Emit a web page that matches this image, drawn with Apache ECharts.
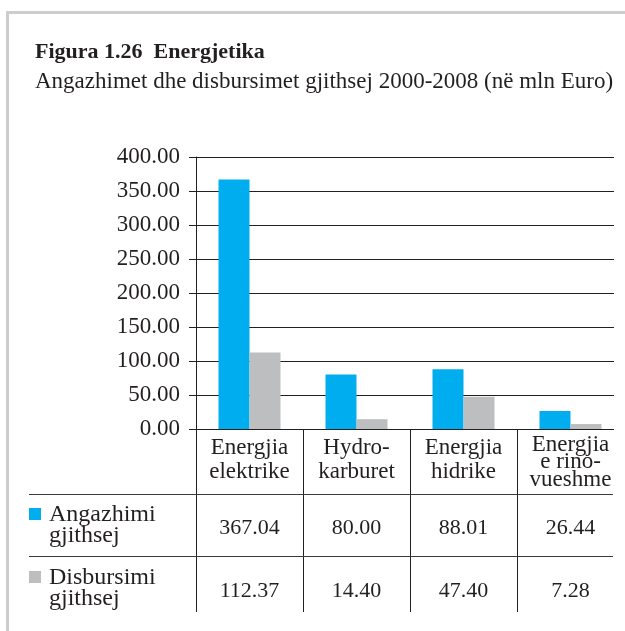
<!DOCTYPE html>
<html>
<head>
<meta charset="utf-8">
<script src="https://cdn.jsdelivr.net/npm/echarts@6/dist/echarts.min.js"></script>
<style>
html,body{margin:0;padding:0;background:#fff;}
#chart{width:625px;height:631px;}
</style>
</head>
<body>
<div id="chart"></div>
<script>
// kategorite (rreshtat e ndare me \n si ne figure)
var categories = ['Energjia\nelektrike', 'Hydro-\nkarburet', 'Energjia\nhidrike', 'Energjia\ne rino-\nvueshme'];
// vlerat ne mln Euro
var angazhimi = [367.04, 80.00, 88.01, 26.44];
var disbursimi = [112.37, 14.40, 47.40, 7.28];
var seriesNames = ['Angazhimi\ngjithsej', 'Disbursimi\ngjithsej'];
var seriesColors = ['#00aeef', '#bcbec0'];
var yMin = 0, yMax = 400, yStep = 50;

var font = 'Liberation Serif';
var ink = '#231f20';

function fmt(v){ return v.toFixed(2); }

// emertimet e rreshtave te tabeles
var rowGraphics = [];
for (var i = 0; i < seriesNames.length; i++) {
	rowGraphics.push({
		type: 'rect', z: 5,
		shape: {x: 29, y: 508 + i * 63, width: 12, height: 12},
		style: {fill: seriesColors[i]}
	});
	rowGraphics.push({
		type: 'text', z: 5, x: 49, y: 504 + i * 63,
		style: {text: seriesNames[i], fontFamily: font, fontSize: 24, fill: ink, lineHeight: 21}
	});
}

var option = {
	animation: false,
	title: {
		text: 'Figura 1.26  Energjetika',
		subtext: 'Angazhimet dhe disbursimet gjithsej 2000-2008 (në mln Euro)',
		left: 30, top: 36, itemGap: 7,
		textStyle: {fontFamily: font, fontSize: 22, fontWeight: 'bold', color: ink},
		subtextStyle: {fontFamily: font, fontSize: 23, color: ink}
	},
	grid: {left: 196, top: 157, width: 428, height: 272},
	xAxis: [
		{ // vijat ndarese
			type: 'category', data: categories, z: 0, position: 'bottom',
			axisLine: {show: true, lineStyle: {color: ink, width: 1}},
			axisTick: {show: true, interval: 0, length: 183, lineStyle: {color: ink, width: 1}},
			axisLabel: {show: false}, splitLine: {show: false}
		},
		{ // emrat e kategorive
			type: 'category', data: categories, z: 3, position: 'bottom',
			axisLine: {show: false}, axisTick: {show: false},
			axisLabel: {
				interval: 0, margin: 7, color: ink, fontFamily: font, fontSize: 23,
				formatter: function(v){
					return v.split('\n').length > 2 ? '{t|' + v + '}' : '{n|' + v + '}';
				},
				rich: {
					n: {fontFamily: font, fontSize: 23, lineHeight: 24, color: ink},
					t: {fontFamily: font, fontSize: 23, lineHeight: 17.5, color: ink}
				}
			}
		},
		{
			type: 'category', data: angazhimi.map(fmt), z: 3, position: 'bottom',
			axisLine: {show: false}, axisTick: {show: false},
			axisLabel: {interval: 0, margin: 99, verticalAlign: 'middle', color: ink, fontFamily: font, fontSize: 22}
		},
		{
			type: 'category', data: disbursimi.map(fmt), z: 3, position: 'bottom',
			axisLine: {show: false}, axisTick: {show: false},
			axisLabel: {interval: 0, margin: 162, verticalAlign: 'middle', color: ink, fontFamily: font, fontSize: 22}
		}
	],
	yAxis: {
		type: 'value', min: yMin, max: yMax, interval: yStep,
		axisLine: {show: true, lineStyle: {color: ink, width: 1}},
		axisTick: {show: true, length: 7, lineStyle: {color: ink, width: 1}},
		axisLabel: {formatter: fmt, margin: 16, color: ink, fontFamily: font, fontSize: 23},
		splitLine: {show: true, lineStyle: {color: ink, width: 1}}
	},
	series: [
		{name: seriesNames[0], type: 'bar', data: angazhimi, barWidth: 31, barGap: '0%', itemStyle: {color: seriesColors[0]}},
		{name: seriesNames[1], type: 'bar', data: disbursimi, barWidth: 31, barGap: '0%', itemStyle: {color: seriesColors[1]}}
	],
	graphic: [
		{ // korniza
			type: 'rect', z: 0,
			shape: {x: 7.5, y: 12.5, width: 700, height: 700},
			style: {fill: null, stroke: '#cdcdcd', lineWidth: 3}
		},
		{ // prerja djathtas
			type: 'rect', z: 1,
			shape: {x: 614, y: 150, width: 20, height: 470},
			style: {fill: '#fff'}
		},
		{type: 'line', z: 5, shape: {x1: 29, y1: 494.5, x2: 613, y2: 494.5}, style: {stroke: '#3a3a3a', lineWidth: 1.2}},
		{type: 'line', z: 5, shape: {x1: 29, y1: 556.5, x2: 613, y2: 556.5}, style: {stroke: '#3a3a3a', lineWidth: 1.2}}
	].concat(rowGraphics)
};

var myChart = echarts.init(document.getElementById('chart'));
myChart.setOption(option);
</script>
</body>
</html>
